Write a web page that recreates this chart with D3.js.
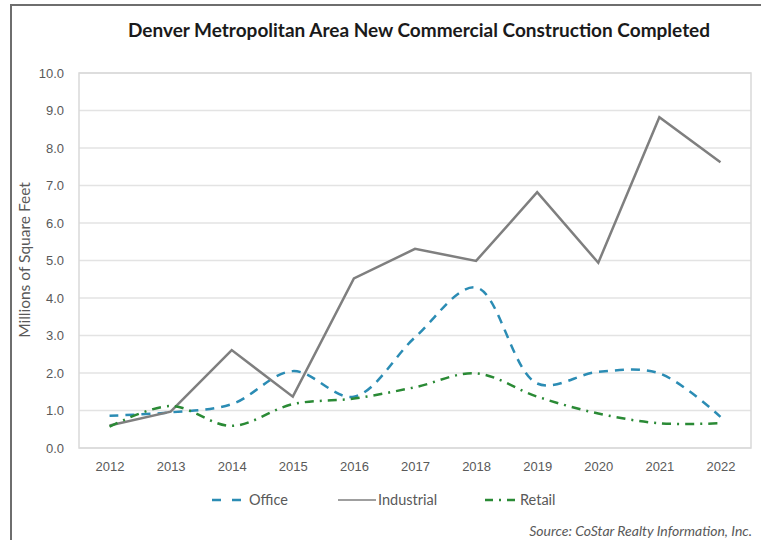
<!DOCTYPE html>
<html>
<head>
<meta charset="utf-8">
<script src="https://cdn.jsdelivr.net/npm/d3@7"></script>
<style>
  body { margin: 0; background: #fff; }
  svg { display: block; font-family: Lato, "Open Sans", sans-serif; }
</style>
</head>
<body>
<div class="container"></div>
<script>
var years = ["2012", "2013", "2014", "2015", "2016", "2017", "2018", "2019", "2020", "2021", "2022"];
var office = [0.86, 0.95, 1.17, 2.05, 1.37, 2.95, 4.28, 1.72, 2.03, 1.99, 0.83];
var industrial = [0.6, 0.97, 2.61, 1.37, 4.52, 5.31, 4.99, 6.82, 4.94, 8.82, 7.62];
var retail = [0.57, 1.12, 0.59, 1.17, 1.32, 1.62, 1.99, 1.37, 0.92, 0.66, 0.66];
var yTicks = [0, 1, 2, 3, 4, 5, 6, 7, 8, 9, 10];

var w = 761, h = 540;
var margin = {top: 73, right: 10, bottom: 92, left: 79};
var width = w - margin.left - margin.right,
    height = h - margin.top - margin.bottom;

var svg = d3.select('.container')
  .append('svg')
  .attr('width', w)
  .attr('height', h);

// outer frame (only top and left visible)
svg.append('rect')
  .attr('x', 11).attr('y', 5)
  .attr('width', 800).attr('height', 600)
  .attr('fill', 'none')
  .attr('stroke', '#6e6e6e')
  .attr('stroke-width', 2);

var g = svg.append('g')
  .attr('transform', 'translate(' + margin.left + ',' + margin.top + ')');

var xScale = d3.scalePoint()
  .domain(years)
  .range([0, width])
  .padding(0.5);
var yScale = d3.scaleLinear()
  .domain([0, 10])
  .range([height, 0]);

/* ===== GRID ===== */
g.append('g')
  .selectAll('line')
  .data(yTicks)
  .enter()
  .append('line')
  .attr('x1', 0).attr('x2', width)
  .attr('y1', function(d) { return yScale(d); })
  .attr('y2', function(d) { return yScale(d); })
  .attr('stroke', '#e3e3e3')
  .attr('stroke-width', 1.5);

g.append('rect')
  .attr('width', width).attr('height', height)
  .attr('fill', 'none')
  .attr('stroke', '#d9d9d9')
  .attr('stroke-width', 1.5);

/* ===== AXES ===== */
var yAxis = d3.axisLeft(yScale)
  .tickValues(yTicks)
  .tickFormat(d3.format('.1f'))
  .tickSize(0)
  .tickPadding(15);
var yG = g.append('g').call(yAxis);
yG.select('.domain').remove();
yG.selectAll('text').style('font-size', '13px').attr('fill', '#595959');

var xAxis = d3.axisBottom(xScale)
  .tickSize(0)
  .tickPadding(14);
var xG = g.append('g')
  .attr('transform', 'translate(0,' + height + ')')
  .call(xAxis);
xG.select('.domain').remove();
xG.selectAll('text').style('font-size', '13px').attr('fill', '#595959');

/* ===== LINES ===== */
var series = [
  {name: 'Office', values: office, color: '#2b8cb4', dash: '9,7', curve: d3.curveCatmullRom.alpha(0.5)},
  {name: 'Industrial', values: industrial, color: '#7f7f7f', dash: null, curve: d3.curveLinear},
  {name: 'Retail', values: retail, color: '#2a8a35', dash: '9,6,2,6', curve: d3.curveCatmullRom.alpha(0.5)}
];

series.forEach(function(s) {
  var line = d3.line()
    .x(function(d, i) { return xScale(years[i]); })
    .y(function(d) { return yScale(d); })
    .curve(s.curve);
  g.append('path')
    .datum(s.values)
    .attr('fill', 'none')
    .attr('stroke', s.color)
    .attr('stroke-width', 2.5)
    .attr('stroke-dasharray', s.dash)
    .attr('d', line);
});

/* ===== LABELS ===== */
svg.append('text')
  .attr('x', 419)
  .attr('y', 37)
  .style('text-anchor', 'middle')
  .style('font-size', '19px')
  .style('font-weight', 'bold')
  .attr('fill', '#1a1a1a')
  .text('Denver Metropolitan Area New Commercial Construction Completed');

svg.append('text')
  .attr('transform', 'translate(30,260) rotate(-90)')
  .style('text-anchor', 'middle')
  .style('font-size', '15.5px')
  .attr('fill', '#595959')
  .text('Millions of Square Feet');

/* ===== LEGEND ===== */
var legendItems = [
  {s: series[0], x1: 212, x2: 244, tx: 249},
  {s: series[1], x1: 338, x2: 376, tx: 378},
  {s: series[2], x1: 485, x2: 520, tx: 520}
];
var legend = svg.append('g');
legendItems.forEach(function(it) {
  legend.append('line')
    .attr('x1', it.x1).attr('x2', it.x2)
    .attr('y1', 500).attr('y2', 500)
    .attr('stroke', it.s.color)
    .attr('stroke-width', it.s.dash ? 2.5 : 1.5)
    .attr('stroke-dasharray', it.s.name === 'Office' ? '9,11' : (it.s.name === 'Retail' ? '8,6,2,6' : null));
  legend.append('text')
    .attr('x', it.tx)
    .attr('y', 505)
    .style('font-size', '14.5px')
    .attr('fill', '#595959')
    .text(it.s.name);
});

svg.append('text')
  .attr('x', 752)
  .attr('y', 536)
  .style('text-anchor', 'end')
  .style('font-size', '14px')
  .style('font-style', 'italic')
  .attr('fill', '#595959')
  .text('Source: CoStar Realty Information, Inc.');
</script>
</body>
</html>
